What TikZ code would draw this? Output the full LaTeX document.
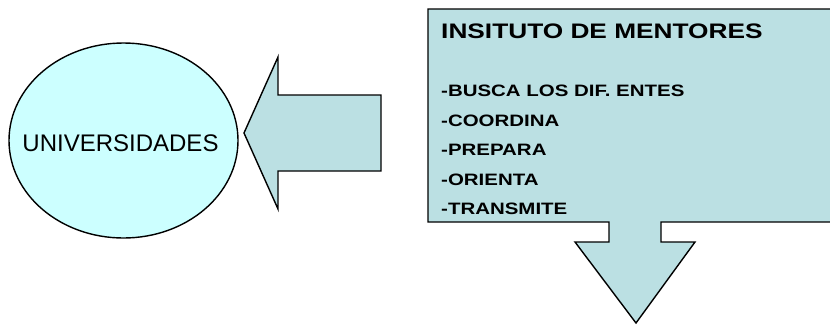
\documentclass[tikz,border=0pt]{standalone}
\usepackage{fontspec}
\setmainfont{Liberation Sans}
\usetikzlibrary{shapes.geometric}
\definecolor{cyanfill}{HTML}{CCFFFF}
\definecolor{boxfill}{HTML}{BBE0E3}
\begin{document}
\begin{tikzpicture}[x=1pt,y=-1pt,
  shapeline/.style={draw=black,line width=1.4pt,line join=miter},
  itemtext/.style={anchor=base west,inner sep=0pt,font=\fontsize{16.5}{18}\selectfont\bfseries},
  titletext/.style={anchor=base west,inner sep=0pt,font=\fontsize{21}{24}\selectfont\bfseries}]
\useasboundingbox (0,0) rectangle (830,325);
% callout box with downward arrow
\begin{scope}
\clip (0,0) rectangle (830,325);
\draw[shapeline,fill=boxfill] (428,9) -- (845,9) -- (845,222) -- (661,222) -- (661,242) -- (695,242)
  -- (636,323) -- (575,242) -- (609,242) -- (609,222) -- (428,222) -- cycle;
\end{scope}
% left arrow
\draw[shapeline,fill=boxfill] (244,133) -- (278,57) -- (278,95) -- (381,95) -- (381,171) -- (278,171) -- (278,209) -- cycle;
% ellipse
\node[ellipse,shapeline,fill=cyanfill,minimum width=229pt,minimum height=195pt,inner sep=0pt] (univ) at (123.5,140.5) {};
\node[anchor=base,inner sep=0pt,font=\fontsize{24}{26}\selectfont] (univtext) at (120.5,151) {UNIVERSIDADES};
% texts
\node[titletext] (title) at (441,38) {\scalebox{1.25}[1]{INSITUTO DE MENTORES}};
\node[itemtext] (i1) at (441,96.7) {\scalebox{1.24}[1]{-BUSCA LOS DIF. ENTES}};
\node[itemtext] (i2) at (441,126) {\scalebox{1.24}[1]{-COORDINA}};
\node[itemtext] (i3) at (441,155.7) {\scalebox{1.24}[1]{-PREPARA}};
\node[itemtext] (i4) at (441,185) {\scalebox{1.24}[1]{-ORIENTA}};
\node[itemtext] (i5) at (441,214.3) {\scalebox{1.24}[1]{-TRANSMITE}};
\end{tikzpicture}
\end{document}
